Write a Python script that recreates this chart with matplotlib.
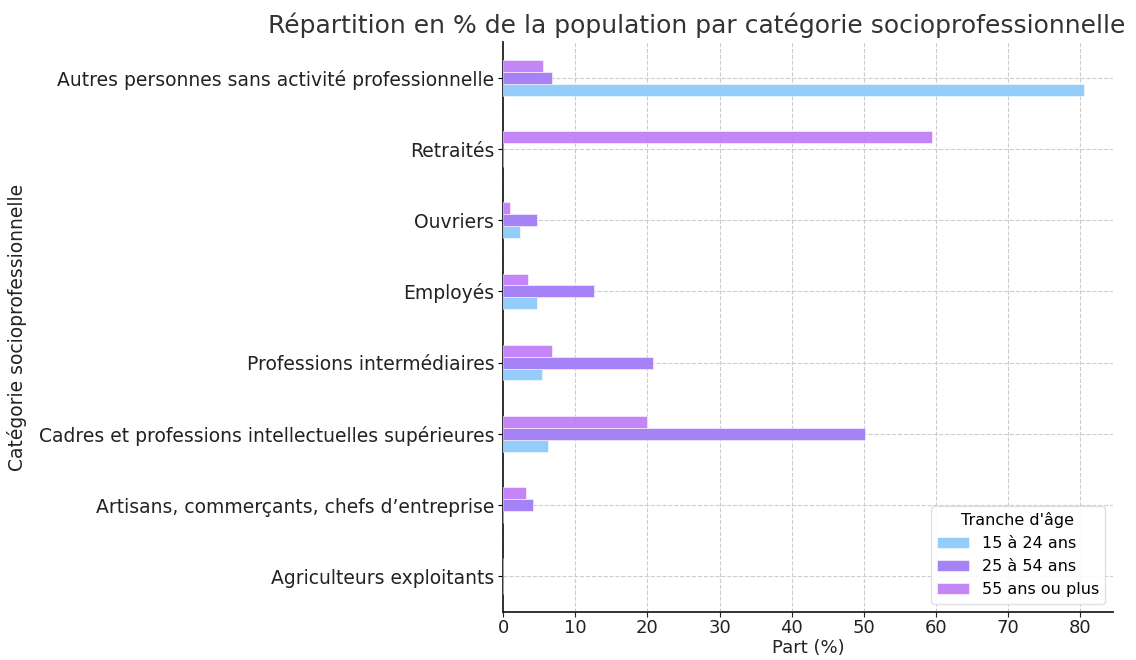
import numpy as np
import matplotlib
matplotlib.use("Agg")
import matplotlib.pyplot as plt

# ==== Data ====
categories = [
    "Agriculteurs exploitants",
    "Artisans, commerçants, chefs d’entreprise",
    "Cadres et professions intellectuelles supérieures",
    "Professions intermédiaires",
    "Employés",
    "Ouvriers",
    "Retraités",
    "Autres personnes sans activité professionnelle",
]
age_15_24 = [0.0, 0.0, 6.2, 5.4, 4.7, 2.3, 0.0, 80.6]
age_25_54 = [0.0, 4.1, 50.2, 20.8, 12.6, 4.7, 0.0, 6.7]
age_55_plus = [0.0, 3.2, 19.9, 6.8, 3.5, 0.9, 59.4, 5.5]
series_labels = ["15 à 24 ans", "25 à 54 ans", "55 ans ou plus"]
colors = ["#8FCBFA", "#A07CF6", "#C07EF8"]

# ==== Plot ====
fig = plt.figure(figsize=(11.36, 6.6), dpi=100)
ax = fig.add_axes([0.443, 0.073, 0.537, 0.863])

y = np.arange(len(categories))
h = 0.5 / 3
for i, (vals, lab, col) in enumerate(zip([age_15_24, age_25_54, age_55_plus], series_labels, colors)):
    ax.barh(y + (i - 1) * h, vals, height=h, color=col, alpha=0.95, label=lab,
            edgecolor="white", linewidth=0.4, zorder=3)

ax.set_yticks(y)
ax.set_yticklabels(categories, fontsize=13.5, color="#222222")
ax.set_ylim(-0.5, len(categories) - 0.5)
ax.set_xlim(0, 84.6)
ax.set_xticks(np.arange(0, 81, 10))
ax.tick_params(axis="x", labelsize=13, colors="#222222", pad=2)
ax.tick_params(axis="y", pad=3)
ax.set_xlabel("Part (%)", fontsize=13, color="#222222", labelpad=1)
ax.set_ylabel("Catégorie socioprofessionnelle", fontsize=13.5, color="#222222")
ax.yaxis.set_label_coords(-0.78, 0.5)
# titre placé sur la figure comme dans l'original
fig.text(697 / 1136, 1 - 25 / 660,
         "Répartition en % de la population par catégorie socioprofessionnelle",
         fontsize=18, color="#333333", ha="center", va="center")

ax.grid(True, linestyle="--", color="#cccccc", linewidth=0.8, zorder=0)
ax.set_axisbelow(True)
for s in ["top", "right"]:
    ax.spines[s].set_visible(False)
for s in ["left", "bottom"]:
    ax.spines[s].set_linewidth(1.3)
    ax.spines[s].set_color("#222222")

leg = ax.legend(title="Tranche d'âge", loc="lower right", fontsize=11.5,
                title_fontsize=11.5, framealpha=0.9, edgecolor="#dddddd")

fig.savefig("out.png", dpi=100)
